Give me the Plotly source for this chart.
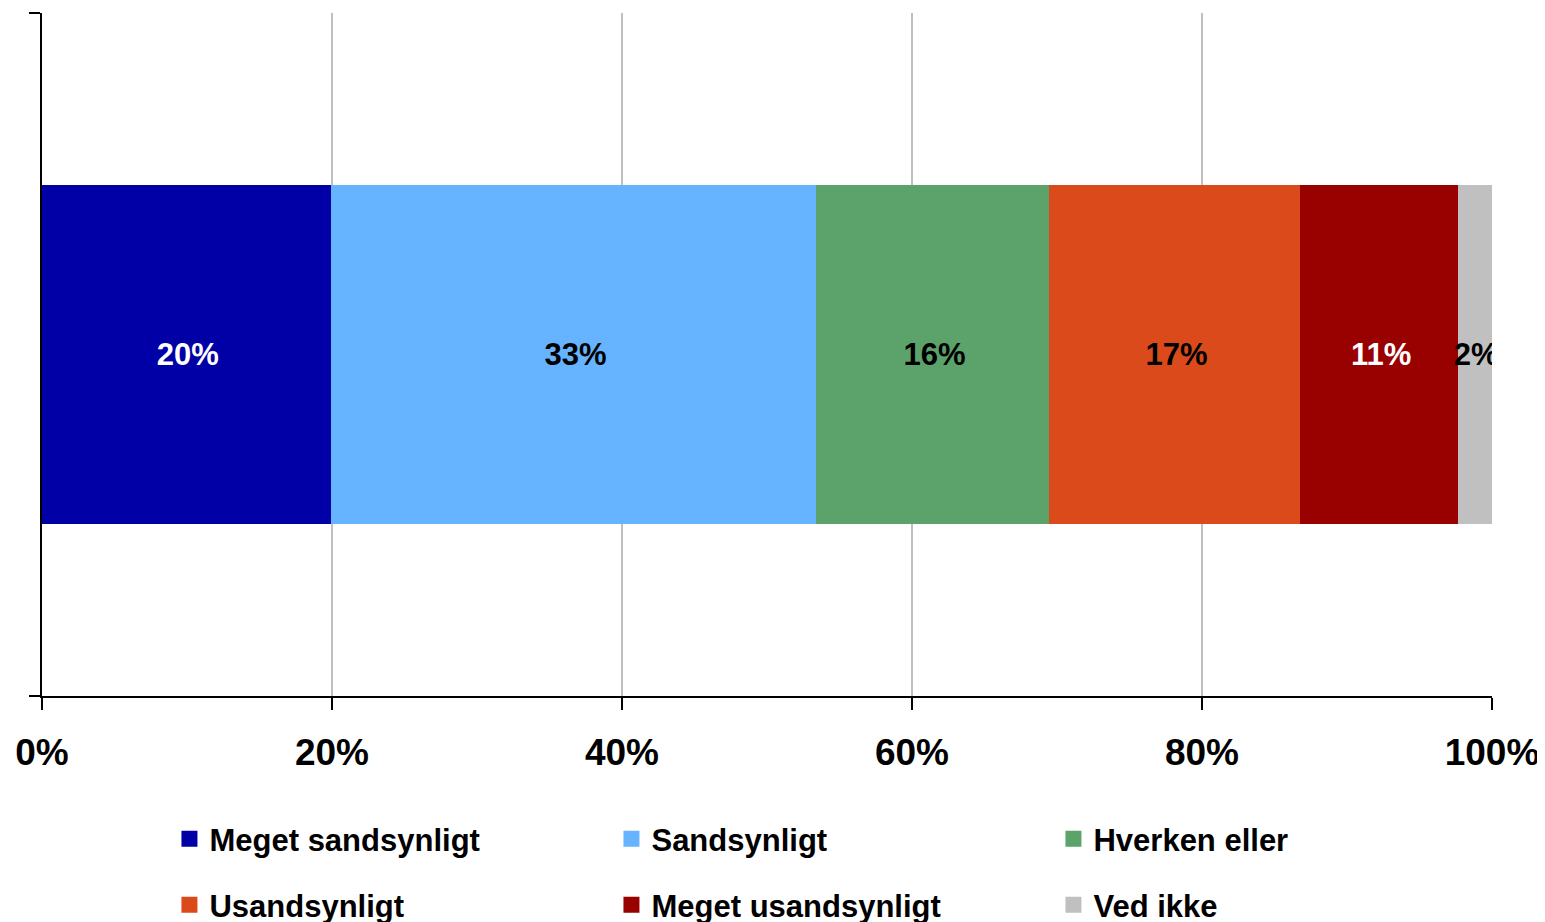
import plotly.graph_objects as go

categories = ["Total"]
series_names = ["Meget sandsynligt", "Sandsynligt", "Hverken eller",
                "Usandsynligt", "Meget usandsynligt", "Ved ikke"]
series_values = [20.1, 33.4, 16.1, 17.3, 10.9, 2.2]
series_labels = ["20%", "33%", "16%", "17%", "11%", "2%"]
colors = ["#0000A6", "#66B3FF", "#5BA36A", "#DB4A1A", "#990000", "#C0C0C0"]
text_colors = ["white", "black", "black", "black", "white", "black"]
tick_vals = [0, 20, 40, 60, 80, 100]
tick_text = ["0%", "20%", "40%", "60%", "80%", "100%"]

FONT = "Arial, Liberation Sans, sans-serif"

fig = go.Figure()
for i, (name, val, lab) in enumerate(zip(series_names, series_values, series_labels)):
    fig.add_trace(go.Bar(
        y=categories, x=[val], name=name, orientation="h",
        marker=dict(color=colors[i], line=dict(color=colors[i], width=4)),
        text=[lab], textposition="inside", insidetextanchor="middle",
        constraintext="none", textangle=0,
        insidetextfont=dict(color=text_colors[i], size=31, family=FONT, weight="bold"),
        legend="legend" if i < 3 else "legend2",
        hoverinfo="skip",
    ))

leg_common = dict(orientation="h", xanchor="left", yanchor="middle",
                  entrywidth=397, entrywidthmode="pixels",
                  font=dict(size=31, family=FONT, weight="bold"),
                  bgcolor="rgba(0,0,0,0)", traceorder="normal")

fig.update_layout(
    width=1545, height=922,
    barmode="stack", bargap=0.51,
    plot_bgcolor="white", paper_bgcolor="white",
    margin=dict(l=34, r=61, t=5, b=234, autoexpand=False),
    font=dict(family=FONT, size=31, color="black", weight="bold"),
    xaxis=dict(range=[0, 100], tickvals=tick_vals, ticktext=tick_text,
               showgrid=True, gridcolor="#BFBFBF", gridwidth=1.5,
               showline=True, linecolor="black", linewidth=2,
               ticks="outside", ticklen=12, tickwidth=2, tickcolor="black",
               tickfont=dict(size=37, family=FONT, weight="bold"),
               ticklabelstandoff=11, zeroline=False, fixedrange=True,
               automargin=False),
    yaxis=dict(showticklabels=False, showline=True, linecolor="black", linewidth=2,
               ticks="outside", tickson="boundaries", ticklen=11, tickwidth=2,
               tickcolor="black", showgrid=False, fixedrange=True, automargin=False),
    legend=dict(x=0.0879, y=(696 - 839) / 683, **leg_common),
    legend2=dict(x=0.0879, y=(696 - 905) / 683, **leg_common),
)

fig.write_html("out.html")
